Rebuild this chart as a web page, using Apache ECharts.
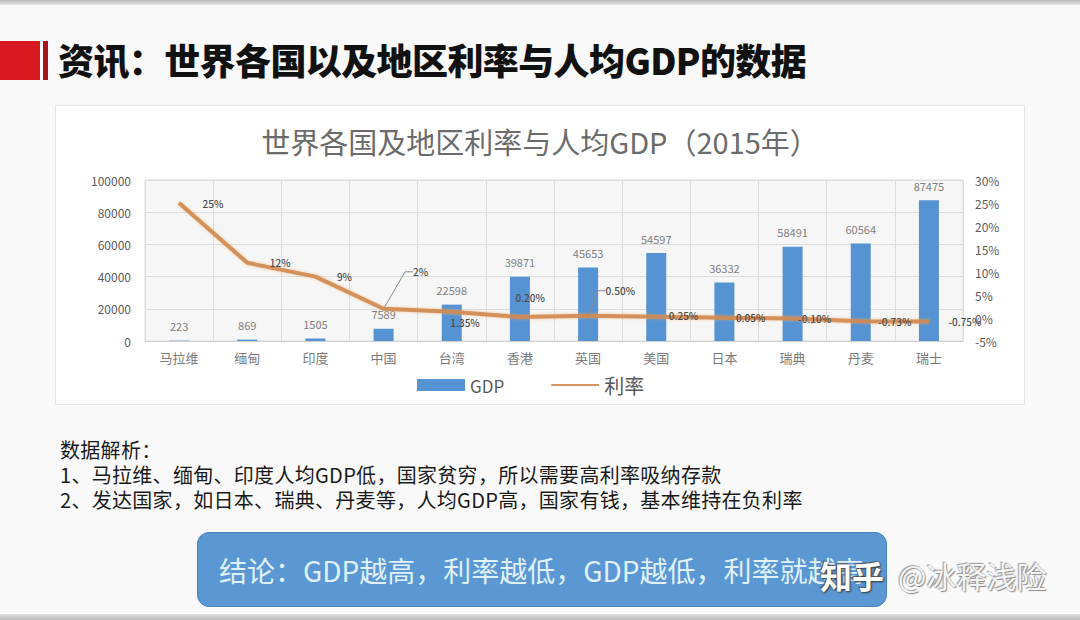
<!DOCTYPE html>
<html>
<head>
<meta charset="utf-8">
<script src="https://cdn.jsdelivr.net/npm/echarts@6/dist/echarts.min.js"></script>
<style>
  body { margin: 0; width: 1080px; height: 620px; background: #f9f9f9; position: relative; overflow: hidden;
         font-family: "Noto Sans CJK SC", "Noto Sans", sans-serif; }
  .topband { position: absolute; left: 0; top: 0; width: 1080px; height: 5px; background: linear-gradient(#b9b9b9, #e6e6e6); }
  .botband { position: absolute; left: 0; top: 614px; width: 1080px; height: 6px; background: linear-gradient(#e0e0e0, #bdbdbd); }
  .redblock { position: absolute; left: 0; top: 41px; width: 40px; height: 39px; background: #d7191f; }
  .redline { position: absolute; left: 43px; top: 41px; width: 5px; height: 39px; background: #a3161b; }
  .heading { position: absolute; left: 58px; top: 35px; font-size: 36px; font-weight: 900; color: #111; letter-spacing: -0.6px; white-space: nowrap; line-height: 48px; }
  #chart { position: absolute; left: 55px; top: 105px; width: 970px; height: 300px; background: #fff; border: 1px solid #e4e4e4; box-sizing: border-box; }
  .note { position: absolute; left: 60px; font-size: 20px; line-height: 24px; height: 24px; color: #1a1a1a; white-space: nowrap; letter-spacing: 0.3px; }
  .conclusion { position: absolute; left: 197px; top: 532px; width: 690px; height: 75px; background: #5b97d2; border: 1px solid #4a82bd;
                border-radius: 12px; box-sizing: border-box; }
  .conclusion span { position: absolute; left: 21px; top: 18px; font-size: 28px; line-height: 38px; color: #dff1fb; white-space: nowrap; }
  .mark1 { position: absolute; left: 820px; top: 553px; font-size: 32px; font-weight: 700; color: #fff; line-height: 44px;
           text-shadow: 1px 1px 2px #333, -1px -1px 1px #555; }
  .mark2 { position: absolute; left: 898px; top: 553px; font-size: 30px; color: #f4f4f4; line-height: 44px;
           text-shadow: 1px 1px 1px #8a8a8a, -1px -1px 1px #9a9a9a; }
</style>
</head>
<body>
<div class="topband"></div>
<div class="redblock"></div>
<div class="redline"></div>
<div class="heading">资讯：世界各国以及地区利率与人均GDP的数据</div>
<div id="chart"></div>
<div class="note" style="top:438px">数据解析：</div>
<div class="note" style="top:463px">1、马拉维、缅甸、印度人均GDP低，国家贫穷，所以需要高利率吸纳存款</div>
<div class="note" style="top:488px">2、发达国家，如日本、瑞典、丹麦等，人均GDP高，国家有钱，基本维持在负利率</div>
<div class="conclusion"><span>结论：GDP越高，利率越低，GDP越低，利率就越高</span></div>
<div class="mark1">知乎</div>
<div class="mark2">@冰释浅险</div>
<div class="botband"></div>
<script>
// 2015 data
const categories = ['马拉维', '缅甸', '印度', '中国', '台湾', '香港', '英国', '美国', '日本', '瑞典', '丹麦', '瑞士'];
const gdpValues = [223, 869, 1505, 7589, 22598, 39871, 45653, 54597, 36332, 58491, 60564, 87475];
const rateValues = [25, 12, 9, 2, 1.35, 0.20, 0.50, 0.25, 0.05, -0.10, -0.73, -0.75];
const rateLabels = ['25%', '12%', '9%', '2%', '1.35%', '0.20%', '0.50%', '0.25%', '0.05%', '-0.10%', '-0.73%', '-0.75%'];

// where each rate label sits relative to its point (Excel-like placement)
const rateLabelShift = [[23, 0], [22, 0], [21, 0], [29, -37], [-2, 11], [-5, -20], [17, -25], [12, -1], [11, 0], [5, 0], [17, 0], [19, 0]];
const leaderIdx = [3, 6];

let chart = echarts.init(document.getElementById('chart'), null, { renderer: 'svg' });
let option = {
    animation: false,
    textStyle: { fontFamily: '"Noto Sans CJK SC", "Noto Sans", sans-serif' },
    title: {
        text: '世界各国及地区利率与人均GDP（2015年）',
        left: 'center',
        top: 15,
        textStyle: { fontSize: 29, fontWeight: 'normal', color: '#6b6b6b' }
    },
    legend: {
        left: 356,
        top: 264,
        itemWidth: 48,
        itemHeight: 12,
        itemGap: 46,
        textStyle: { fontSize: 17, color: '#595959' },
        data: [
            { name: 'GDP', icon: 'rect' },
            { name: '利率', itemStyle: { opacity: 0 }, textStyle: { fontSize: 20 } }
        ]
    },
    grid: { left: 89, top: 74, width: 818, height: 161, show: true, backgroundColor: '#f6f6f6', borderColor: '#dcdcdc', borderWidth: 1 },
    xAxis: {
        type: 'category',
        data: categories,
        axisLine: { lineStyle: { color: '#d0d0d0' } },
        axisTick: { show: false },
        axisLabel: { color: '#7a7a7a', fontSize: 13, margin: 10 },
        splitLine: { show: true, lineStyle: { color: '#dcdcdc' } }
    },
    yAxis: [{
        type: 'value',
        min: 0,
        max: 100000,
        interval: 20000,
        axisLine: { show: false },
        axisLabel: { color: '#5a5a5a', fontSize: 12, margin: 14, formatter: v => String(v) },
        splitLine: { lineStyle: { color: '#dcdcdc' } }
    }, {
        type: 'value',
        min: -5,
        max: 30,
        interval: 5,
        axisLine: { show: false },
        axisLabel: { color: '#5a5a5a', fontSize: 12, margin: 12, formatter: '{value}%' },
        splitLine: { show: false }
    }],
    series: [{
        name: 'GDP',
        type: 'bar',
        data: gdpValues,
        barWidth: 20,
        itemStyle: { color: '#5593d2' },
        label: { show: true, position: 'top', distance: 9, color: '#7f7f7f', fontSize: 11 }
    }, {
        name: '利率',
        type: 'line',
        yAxisIndex: 1,
        data: rateValues.map((v, i) => leaderIdx.includes(i) ? { value: v, labelLine: { show: true } } : v),
        symbol: 'circle',
        symbolSize: 1,
        itemStyle: { color: '#cf8a52' },
        lineStyle: { color: '#cf8a52', width: 4, opacity: 0.9, shadowColor: 'rgba(245,170,100,0.7)', shadowBlur: 3 },
        label: {
            show: true,
            position: 'right',
            distance: 0,
            color: '#4d4d4d',
            fontSize: 10,
            fontWeight: 500,
            formatter: p => rateLabels[p.dataIndex]
        },
        labelLine: { show: false, length2: 8, lineStyle: { color: '#8c8c8c', width: 1 } },
        labelLayout: p => ({ dx: rateLabelShift[p.dataIndex][0], dy: rateLabelShift[p.dataIndex][1] })
    }]
};
chart.setOption(option);
</script>
</body>
</html>
